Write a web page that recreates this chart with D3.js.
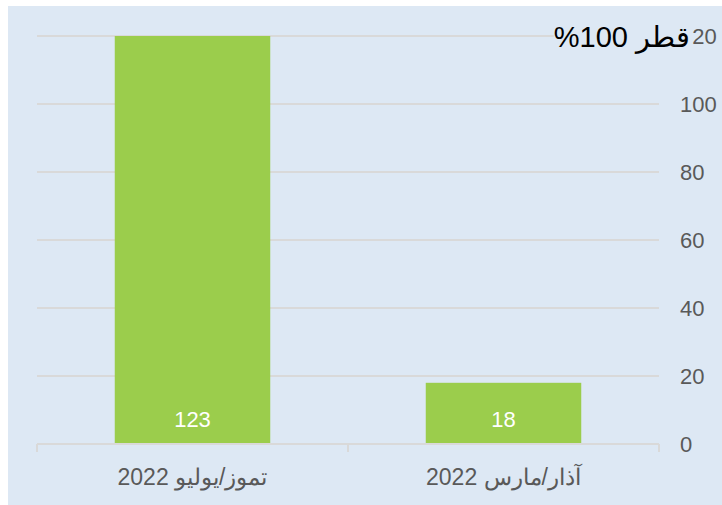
<html>
<head>
<meta charset="utf-8">
<script src="https://d3js.org/d3.v7.min.js"></script>
<style>
body { margin: 0; background: #fff; }
text { font-family: "Liberation Sans", Arial, sans-serif; }
</style>
</head>
<body>
<svg width="722" height="505"></svg>
<script>
// chart data
var categories = ["تموز/يوليو 2022", "آذار/مارس 2022"];
var values = [123, 18];
var yTicks = [0, 20, 40, 60, 80, 100, 120];
var title = "قطر 100%";

var svg = d3.select("svg");

// panel background
svg.append("rect").attr("x", 8).attr("y", 6).attr("width", 714).attr("height", 499)
	.attr("fill", "#dde8f4");

var x = d3.scaleBand().domain(categories).range([37, 659]).paddingInner(0).paddingOuter(0);
var y = d3.scaleLinear().domain([0, 120]).range([444, 36]);

// gridlines
svg.selectAll("line.grid").data(yTicks.slice(1)).enter().append("line")
	.attr("class", "grid")
	.attr("x1", 37).attr("x2", 659)
	.attr("y1", function (d) { return y(d); })
	.attr("y2", function (d) { return y(d); })
	.attr("stroke", "#d9d9d9").attr("stroke-width", 2);

// bars (clipped at axis max)
var barW = x.bandwidth() * 0.5;
svg.selectAll("rect.bar").data(values).enter().append("rect")
	.attr("class", "bar")
	.attr("x", function (d, i) { return x(categories[i]) + (x.bandwidth() - barW) / 2; })
	.attr("width", barW)
	.attr("y", function (d) { return y(Math.min(d, 120)); })
	.attr("height", function (d) { return y(0) - y(Math.min(d, 120)); })
	.attr("fill", "#9bcd4c");

// value labels
svg.selectAll("text.val").data(values).enter().append("text")
	.attr("class", "val")
	.attr("x", function (d, i) { return x(categories[i]) + x.bandwidth() / 2; })
	.attr("y", 427)
	.attr("text-anchor", "middle")
	.attr("fill", "#fff")
	.style("font-size", "22px")
	.text(function (d) { return d; });

// x axis line + ticks at band edges
svg.append("line").attr("x1", 37).attr("x2", 659).attr("y1", 444).attr("y2", 444)
	.attr("stroke", "#d9d9d9").attr("stroke-width", 2);
var edges = categories.map(function (d) { return x(d); }).concat([x(categories[categories.length - 1]) + x.bandwidth()]);
svg.selectAll("line.xt").data(edges).enter().append("line")
	.attr("class", "xt")
	.attr("x1", function (d) { return d; })
	.attr("x2", function (d) { return d; })
	.attr("y1", 444).attr("y2", 452)
	.attr("stroke", "#d9d9d9").attr("stroke-width", 2);

svg.selectAll("text.cat").data(categories).enter().append("text")
	.attr("class", "cat")
	.attr("x", function (d) { return x(d) + x.bandwidth() / 2; })
	.attr("y", 485)
	.attr("text-anchor", "middle")
	.attr("fill", "#595959")
	.style("font-size", "23px")
	.text(function (d) { return d; });

// y axis on right
var yAxis = d3.axisRight(y).tickValues(yTicks).tickSize(0).tickPadding(0);
var gy = svg.append("g").attr("transform", "translate(680,0)").call(yAxis);
gy.select(".domain").remove();
gy.selectAll("text")
	.attr("fill", "#595959")
	.style("font-size", "22px")
	.style("font-family", "'Liberation Sans', Arial, sans-serif")
	.attr("dy", "0.36em");

// title (rtl) with panel-coloured backing
var tg = svg.append("g");
var bg = tg.append("rect").attr("fill", "#dde8f4");
var t = tg.append("text")
	.attr("x", 0).attr("y", 47)
	.attr("direction", "rtl")
	.style("unicode-bidi", "embed")
	.attr("fill", "#000")
	.style("font-size", "29px")
	.text(title);
var bb = t.node().getBBox();
t.attr("x", 690 - (bb.x + bb.width));
bb = t.node().getBBox();
bg.attr("x", bb.x).attr("y", bb.y + 4).attr("width", bb.width + 2).attr("height", bb.height - 6);
</script>
</body>
</html>
